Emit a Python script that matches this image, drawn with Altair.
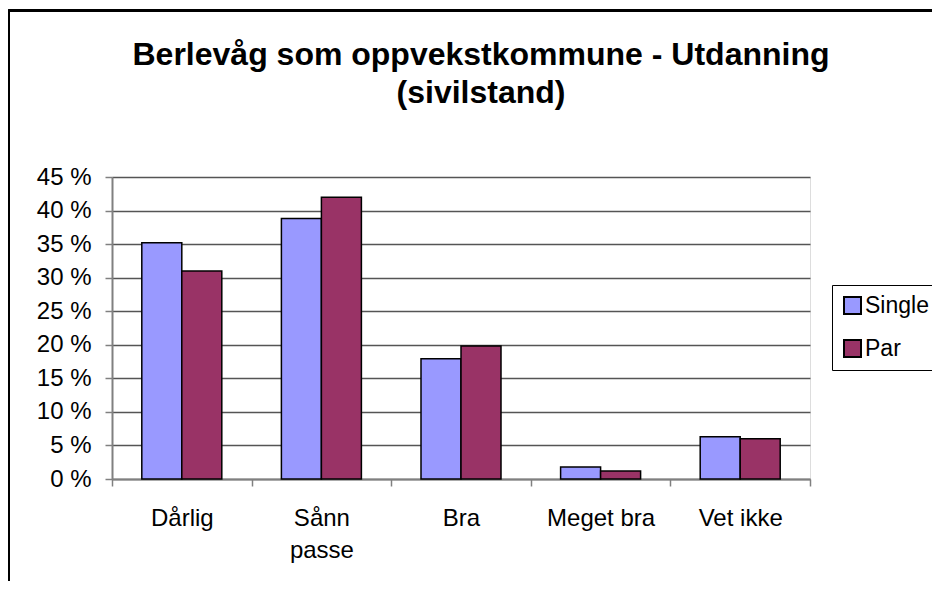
import altair as alt
import pandas as pd

categories = ["Dårlig", "Sånn passe", "Bra", "Meget bra", "Vet ikke"]
series = ["Single", "Par"]
single = [35.2, 38.8, 17.9, 1.8, 6.3]
par = [31.0, 42.0, 19.8, 1.2, 6.0]
y_ticks = [0, 5, 10, 15, 20, 25, 30, 35, 40, 45]
colors = ["#9999FF", "#993366"]

rows = []
for c, s, p in zip(categories, single, par):
    rows.append({"kategori": c, "gruppe": "Single", "andel": s})
    rows.append({"kategori": c, "gruppe": "Par", "andel": p})
df = pd.DataFrame(rows)

FONT = "Liberation Sans"

bars = alt.Chart(df).mark_bar(stroke="black", strokeWidth=1.5).encode(
    x=alt.X(
        "kategori:N",
        sort=categories,
        title=None,
        scale=alt.Scale(paddingInner=0, paddingOuter=0),
        axis=alt.Axis(
            labelAngle=0,
            labelFont=FONT,
            labelFontSize=24,
            labelColor="black",
            labelPadding=20,
            labelLineHeight=32,
            labelExpr="datum.label == 'Sånn passe' ? ['Sånn', 'passe'] : datum.label",
            tickBand="extent",
            tickSize=7,
            tickColor="#808080",
            tickWidth=1.5,
            domainColor="#808080",
            domainWidth=2,
            grid=False,
        ),
    ),
    xOffset=alt.XOffset(
        "gruppe:N", sort=series, scale=alt.Scale(paddingInner=0, paddingOuter=0.745)
    ),
    y=alt.Y(
        "andel:Q",
        title=None,
        scale=alt.Scale(domain=[0, 45], nice=False),
        axis=alt.Axis(
            values=y_ticks,
            labelExpr="datum.value + ' %'",
            labelFont=FONT,
            labelFontSize=24,
            labelColor="black",
            labelPadding=14,
            tickSize=7,
            tickColor="#808080",
            tickWidth=1.5,
            domainColor="#808080",
            domainWidth=2,
            grid=True,
            gridColor="#555555",
            gridWidth=1.3,
        ),
    ),
    color=alt.Color(
        "gruppe:N",
        sort=series,
        scale=alt.Scale(domain=series, range=colors),
        legend=alt.Legend(
            title=None,
            orient="none",
            legendX=720,
            legendY=108,
            symbolType="square",
            symbolSize=289,
            symbolStrokeColor="black",
            symbolStrokeWidth=2,
            symbolOpacity=1,
            labelFont=FONT,
            labelFontSize=23,
            labelColor="black",
            labelOffset=1,
            rowPadding=18,
            padding=9,
            strokeColor="black",
            fillColor="white",
        ),
    ),
)

frame_left = alt.Chart(df).mark_rule(color="black", strokeWidth=2, clip=False).encode(
    x=alt.value(-103.5), y=alt.value(-166.5), y2=alt.value(404)
)
frame_top = alt.Chart(df).mark_rule(color="black", strokeWidth=2, clip=False).encode(
    x=alt.value(-103.5), x2=alt.value(820), y=alt.value(-166.5)
)

chart = alt.layer(frame_left, frame_top, bars).properties(
    width=698,
    height=302,
    autosize=alt.AutoSizeParams(type="none"),
    padding={"left": 104, "top": 169, "right": 122, "bottom": 102},
    title=alt.TitleParams(
        text=["Berlevåg som oppvekstkommune - Utdanning", "(sivilstand)"],
        font=FONT,
        fontSize=32,
        fontWeight="bold",
        color="black",
        lineHeight=38,
        anchor="middle",
        dx=20,
        offset=-100,
    ),
).configure_view(
    fill="#C0C0C0", stroke="#808080", strokeWidth=2
).configure_legend(
    strokeWidth=2
).configure(background="white")

chart.save("out.html", embed_options={"renderer": "svg", "actions": False})
